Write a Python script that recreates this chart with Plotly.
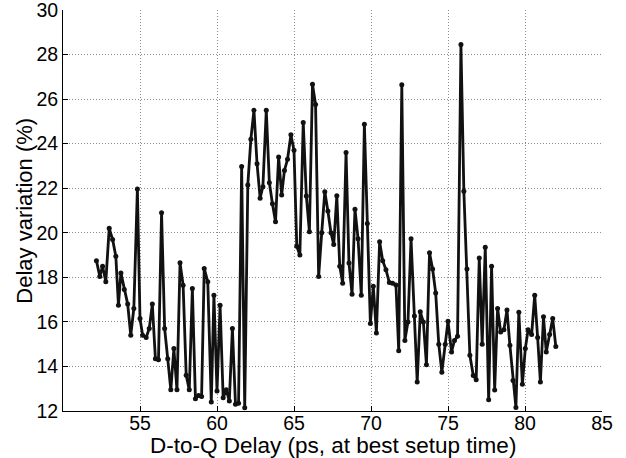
import plotly.graph_objects as go

delay_ps = [
    52.17, 52.39, 52.57, 52.78, 53.0, 53.22, 53.43, 53.6, 53.76, 53.98,
    54.2, 54.4, 54.6, 54.83, 55.0, 55.17, 55.4, 55.6, 55.8, 56.0,
    56.2, 56.4, 56.6, 56.8, 57.0, 57.2, 57.4, 57.6, 57.8, 58.0,
    58.2, 58.4, 58.6, 58.8, 59.0, 59.17, 59.4, 59.63, 59.8, 60.0,
    60.2, 60.4, 60.6, 60.8, 61.0, 61.2, 61.4, 61.6, 61.8, 62.0,
    62.2, 62.4, 62.6, 62.8, 62.98, 63.2, 63.4, 63.6, 63.8, 64.0,
    64.2, 64.38, 64.58, 64.8, 65.0, 65.18, 65.38, 65.6, 65.8, 66.0,
    66.2, 66.4, 66.6, 66.8, 67.0, 67.2, 67.4, 67.58, 67.78, 67.97,
    68.16, 68.38, 68.57, 68.77, 68.96, 69.16, 69.37, 69.57, 69.76, 69.96,
    70.15, 70.35, 70.56, 70.76, 70.97, 71.19, 71.4, 71.62, 71.8, 72.0,
    72.2, 72.4, 72.6, 72.82, 73.0, 73.2, 73.4, 73.6, 73.8, 74.0,
    74.2, 74.4, 74.6, 74.82, 75.0, 75.23, 75.42, 75.62, 75.84, 76.03,
    76.23, 76.42, 76.64, 76.83, 77.03, 77.22, 77.42, 77.64, 77.83, 78.03,
    78.22, 78.42, 78.63, 78.83, 79.02, 79.22, 79.41, 79.6, 79.83, 80.02,
    80.2, 80.43, 80.63, 80.82, 81.0, 81.2, 81.38, 81.6, 81.8, 82.0,
]

variation_pct = [
    18.75, 18.04, 18.5, 17.8, 20.2, 19.7, 18.95, 16.75, 18.2, 17.45,
    16.8, 15.4, 16.6, 21.96, 16.15, 15.4, 15.3, 15.7, 16.8, 14.35,
    14.3, 20.9, 15.7, 14.35, 12.95, 14.8, 12.95, 18.65, 17.65, 13.6,
    12.95, 17.5, 12.55, 12.7, 12.65, 18.4, 17.8, 12.4, 17.2, 12.9,
    16.75, 12.6, 12.95, 12.45, 15.7, 12.3, 12.35, 22.97, 12.15, 22.15,
    24.2, 25.5, 23.1, 21.55, 22.07, 25.5, 22.25, 21.3, 20.5, 23.4,
    21.7, 22.8, 23.3, 24.4, 23.7, 19.4, 19.0, 24.95, 21.65, 20.05,
    26.67, 25.76, 18.04, 20.0, 21.84, 20.98, 20.0, 19.47, 21.66, 18.5,
    17.74, 23.6, 18.64, 17.24, 21.06, 19.73, 17.2, 24.87, 20.42, 15.93,
    17.6, 15.5, 19.6, 18.75, 18.34, 17.77, 17.74, 17.66, 14.7, 26.64,
    15.17, 16.0, 19.73, 16.26, 13.3, 16.45, 16.0, 14.08, 19.1, 18.37,
    17.3, 15.0, 13.74, 15.0, 16.03, 14.65, 15.17, 15.35, 28.45, 21.86,
    18.37, 14.5, 13.59, 13.4, 18.87, 15.0, 19.35, 12.5, 18.5, 12.94,
    16.6, 15.55, 15.65, 16.53, 14.95, 13.37, 12.16, 16.43, 13.2, 14.8,
    15.65, 15.43, 17.2, 15.3, 13.3, 16.23, 14.65, 15.43, 16.15, 14.9,
]

x_ticks = [55, 60, 65, 70, 75, 80, 85]
y_ticks = [12, 14, 16, 18, 20, 22, 24, 26, 28, 30]
x_title = "D-to-Q Delay (ps, at best setup time)"
y_title = "Delay variation (%)"

FONT = "Liberation Sans, Arial, sans-serif"

fig = go.Figure()
fig.add_trace(go.Scatter(
    x=delay_ps, y=variation_pct, mode="lines+markers",
    line=dict(color="#111111", width=2.8),
    marker=dict(color="#111111", size=5),
    showlegend=False,
))

tick_font = dict(family=FONT, size=19.5, color="#000000")
fig.update_layout(
    width=626, height=458,
    margin=dict(l=63, r=24, t=10, b=47),
    paper_bgcolor="white", plot_bgcolor="white",
    font=tick_font,
)
common = dict(
    showgrid=True, gridcolor="#8c8c8c", griddash="1px,2px", gridwidth=1,
    showline=True, linecolor="#000000", linewidth=1,
    ticks="inside", ticklen=5, tickcolor="#000000",
    zeroline=False, tickfont=tick_font, automargin=False,
    ticklabeloverflow="allow",
)
fig.update_xaxes(range=[50, 85], tickvals=x_ticks,
                 ticktext=[str(v) for v in x_ticks],
                 ticklabelstandoff=-5, **common)
fig.update_yaxes(range=[12, 30], tickvals=y_ticks,
                 ticktext=[str(v) for v in y_ticks], **common)

fig.add_annotation(text=x_title, xref="paper", yref="paper",
                   x=0.5, y=-0.085, xanchor="center", yanchor="middle",
                   showarrow=False, font=dict(family=FONT, size=22.5, color="#000000"))
fig.add_annotation(text=y_title, xref="paper", yref="paper",
                   x=-0.072, y=0.5, xanchor="center", yanchor="middle",
                   textangle=-90, showarrow=False,
                   font=dict(family=FONT, size=22, color="#000000"))
fig.write_html(
    "out.html",
    config={"displayModeBar": False},
    post_script="document.body.style.margin='0';document.body.style.overflow='hidden';",
)
